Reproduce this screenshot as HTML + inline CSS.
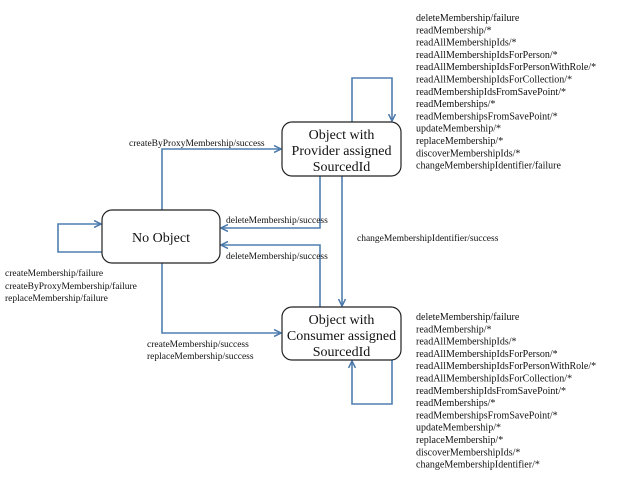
<!DOCTYPE html>
<html><head><style>
body{margin:0;background:#fff;}
svg text{font-family:"Liberation Serif",serif;fill:#111;}
</style></head><body>
<svg width="624" height="499" viewBox="0 0 624 499" xmlns="http://www.w3.org/2000/svg">
<defs><marker id="a" markerWidth="8" markerHeight="8" refX="7" refY="4" orient="auto" markerUnits="userSpaceOnUse"><path d="M0,0.5 L7,4 L0,7.5" fill="none" stroke="#4a78aa" stroke-width="1.5"/></marker></defs>
<g fill="none" stroke="#4f7fb0" stroke-width="1.6">
<path d="M162,210 V149 H281" marker-end="url(#a)"/>
<path d="M352,122 V78 H392 V121" marker-end="url(#a)"/>
<path d="M320,176 V228 H221" marker-end="url(#a)"/>
<path d="M342,176 V306" marker-end="url(#a)"/>
<path d="M320,307 V245 H221" marker-end="url(#a)"/>
<path d="M162,263 V333 H281" marker-end="url(#a)"/>
<path d="M102,252 H58 V224 H101" marker-end="url(#a)"/>
<path d="M392,360 V404 H352 V361" marker-end="url(#a)"/>
</g>
<g fill="#fff" stroke="#222" stroke-width="1.2">
<rect x="282" y="122" width="119" height="54" rx="10"/>
<rect x="102" y="210" width="118" height="53" rx="10"/>
<rect x="282" y="307" width="119" height="53" rx="10"/>
</g>
<g font-size="14" text-anchor="middle">
<text x="341.5" y="139">Object with</text>
<text x="341.5" y="155">Provider assigned</text>
<text x="341.5" y="171">SourcedId</text>
<text x="161" y="242">No Object</text>
<text x="341.5" y="324">Object with</text>
<text x="341.5" y="340">Consumer assigned</text>
<text x="341.5" y="356">SourcedId</text>
</g>
<g font-size="9.5">
<text x="129" y="146">createByProxyMembership/success</text>
<text x="226" y="223">deleteMembership/success</text>
<text x="226" y="259">deleteMembership/success</text>
<text x="357" y="241">changeMembershipIdentifier/success</text>
<text x="147" y="347">createMembership/success</text>
<text x="147" y="359">replaceMembership/success</text>
<text x="5" y="276">createMembership/failure</text>
<text x="5" y="289">createByProxyMembership/failure</text>
<text x="5" y="301">replaceMembership/failure</text>
</g>
<g font-size="10">
<text x="416" y="21">deleteMembership/failure</text>
<text x="416" y="33.3">readMembership/*</text>
<text x="416" y="45.6">readAllMembershipIds/*</text>
<text x="416" y="57.9">readAllMembershipIdsForPerson/*</text>
<text x="416" y="70.2">readAllMembershipIdsForPersonWithRole/*</text>
<text x="416" y="82.5">readAllMembershipIdsForCollection/*</text>
<text x="416" y="94.8">readMembershipIdsFromSavePoint/*</text>
<text x="416" y="107.1">readMemberships/*</text>
<text x="416" y="119.4">readMembershipsFromSavePoint/*</text>
<text x="416" y="131.7">updateMembership/*</text>
<text x="416" y="144">replaceMembership/*</text>
<text x="416" y="156.3">discoverMembershipIds/*</text>
<text x="416" y="168.6">changeMembershipIdentifier/failure</text>
<text x="416" y="320">deleteMembership/failure</text>
<text x="416" y="332.3">readMembership/*</text>
<text x="416" y="344.6">readAllMembershipIds/*</text>
<text x="416" y="356.9">readAllMembershipIdsForPerson/*</text>
<text x="416" y="369.2">readAllMembershipIdsForPersonWithRole/*</text>
<text x="416" y="381.5">readAllMembershipIdsForCollection/*</text>
<text x="416" y="393.8">readMembershipIdsFromSavePoint/*</text>
<text x="416" y="406.1">readMemberships/*</text>
<text x="416" y="418.4">readMembershipsFromSavePoint/*</text>
<text x="416" y="430.7">updateMembership/*</text>
<text x="416" y="443">replaceMembership/*</text>
<text x="416" y="455.3">discoverMembershipIds/*</text>
<text x="416" y="467.6">changeMembershipIdentifier/*</text>
</g>
</svg>
</body></html>
